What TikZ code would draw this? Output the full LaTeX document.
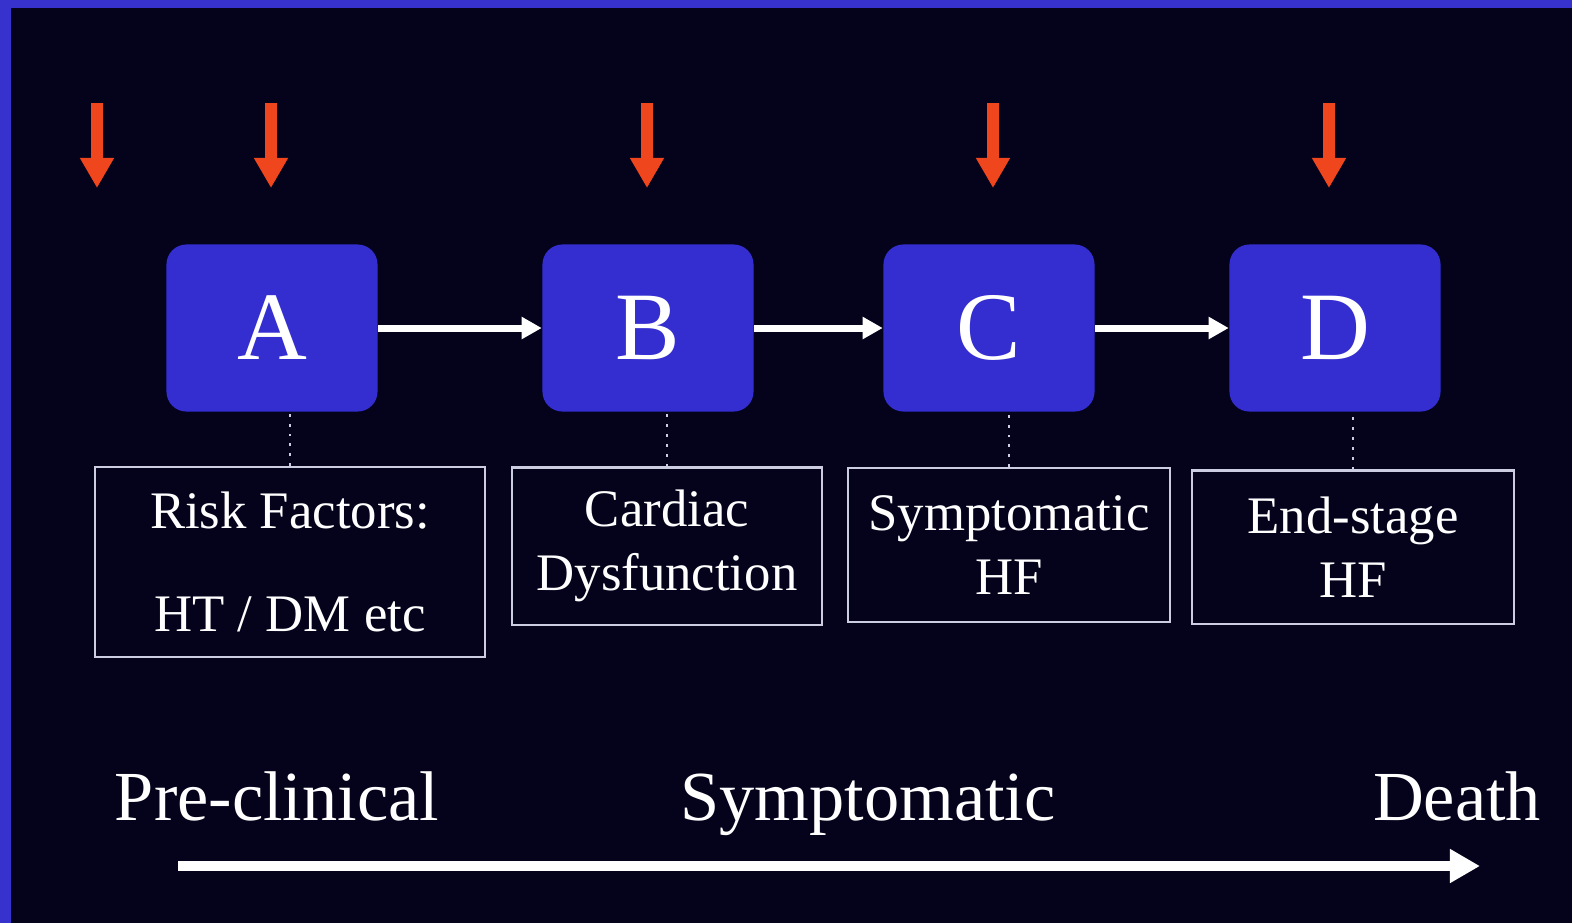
\documentclass[tikz,border=0pt]{standalone}
\usepackage{fontspec}
\setmainfont{Liberation Serif}
\usepackage{tikz}
\usetikzlibrary{arrows.meta,positioning,calc}
\definecolor{frame}{RGB}{55,50,205}
\definecolor{night}{RGB}{5,3,28}
\definecolor{stagefill}{RGB}{52,45,208}
\definecolor{hitred}{RGB}{240,70,30}
\definecolor{edge}{RGB}{205,205,225}
\tikzset{
  stage/.style={rectangle,rounded corners=0.2cm,fill=stagefill,
                minimum width=2.11cm,minimum height=1.67cm,inner sep=0pt,
                text=white,font=\fontsize{27.5}{30}\selectfont},
  note/.style={rectangle,draw=edge,line width=0.6pt,text=white,
               align=center,inner sep=0pt,
               font=\fontsize{15}{18.2}\selectfont},
  flow/.style={-{Triangle[length=0.2cm,width=0.21cm]},line width=2pt,white},
  hit/.style={-{Triangle[length=0.3cm,width=0.32cm]},line width=3.4pt,hitred},
  phase/.style={anchor=base,text=white,font=\fontsize{20}{24}\selectfont},
}
\begin{document}
\begin{tikzpicture}[x=0.01cm,y=-0.01cm,
    link/.style={edge,line width=0.8pt,dotted},
  ]

  % background
  \fill[frame] (0,0) rectangle (1572,923);
  \fill[night] (11,8) rectangle (1572,923);
  \useasboundingbox (0,0) rectangle (1572,923);

  % stages
  \node[stage] (A) at (272,328)  {A};
  \node[stage] (B) at (648,328)  {B};
  \node[stage] (C) at (989,328)  {C};
  \node[stage] (D) at (1335,328) {D};

  \draw[flow] (A) -- (B);
  \draw[flow] (B) -- (C);
  \draw[flow] (C) -- (D);

  % descriptions
  \node[note,minimum width=3.9cm,minimum height=1.9cm]   (risk) at (290,562)
    {Risk Factors:\\[11pt]HT / DM etc};
  \node[note,minimum width=3.09cm,minimum height=1.57cm] (card) at (667,546)
    {Cardiac\\Dysfunction};
  \node[note,minimum width=3.22cm,minimum height=1.54cm] (symp) at (1009,545)
    {Symptomatic\\HF};
  \node[note,minimum width=3.22cm,minimum height=1.53cm] (endst) at (1353,547)
    {End-stage\\HF};

  \foreach \n/\s in {risk/A,card/B,symp/C,endst/D}
    \draw[link] (\n.north) -- (\n.north |- \s.south);

  % interventions
  \foreach \x in {97,271,647,993,1329}
    \draw[hit] (\x,103) -- (\x,188);

  % time line
  \node[phase] (pre)   at (277,820)  {Pre-clinical};
  \node[phase] (sympt) at (868,820)  {Symptomatic};
  \node[phase] (death) at (1457,820) {Death};
  \coordinate (t0) at (178,866);
  \coordinate (t1) at (1480,866);
  \draw[-{Triangle[length=0.3cm,width=0.32cm]},line width=3.1pt,white] (t0) -- (t1);

\end{tikzpicture}
\end{document}
